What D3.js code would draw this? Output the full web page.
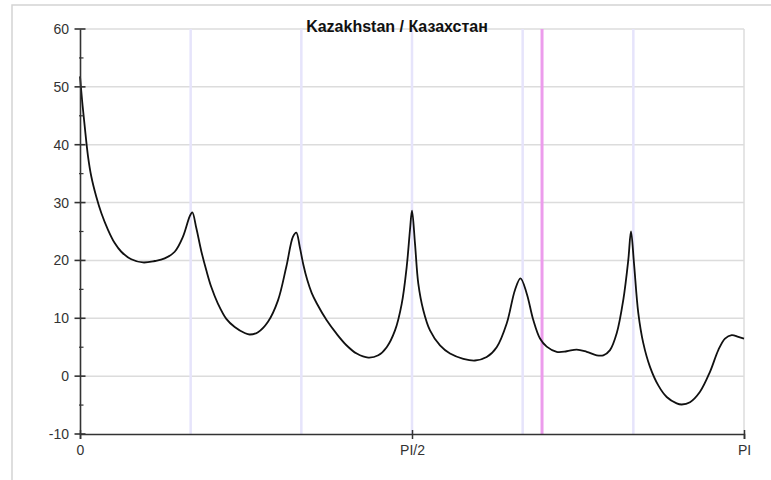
<!DOCTYPE html>
<html>
<head>
<meta charset="utf-8">
<script src="https://cdn.jsdelivr.net/npm/d3@7"></script>
<style>
html,body{margin:0;padding:0;background:#fff;}
svg{display:block;}
text{font-family:"Liberation Sans",Arial,sans-serif;}
</style>
</head>
<body>
<svg id="chart" width="771" height="480"></svg>
<script>
const title = "Kazakhstan / Казахстан";
const omega = [0.000,0.0100,0.0222,0.0379,0.0535,0.0771,0.1008,0.1325,0.1642,0.1954,0.2427,0.2981,0.3534,0.4007,0.4481,0.4873,0.5190,0.5313,0.5503,0.5739,0.5976,0.6212,0.6529,0.6922,0.7319,0.7792,0.8029,0.8422,0.8895,0.9368,0.9761,1.0078,1.0234,1.0400,1.0565,1.0754,1.0960,1.1199,1.1672,1.2145,1.2618,1.3092,1.3640,1.4114,1.4511,1.4904,1.5221,1.5457,1.5613,1.5708,1.5850,1.6006,1.6243,1.6560,1.7033,1.7506,1.8135,1.8689,1.9242,1.9715,2.0188,2.0581,2.0841,2.1134,2.1447,2.1764,2.2081,2.2554,2.3027,2.3500,2.3973,2.4447,2.4759,2.5076,2.5393,2.5705,2.5942,2.6069,2.6211,2.6415,2.6651,2.6968,2.7361,2.7758,2.8231,2.8468,2.8861,2.9334,2.9807,3.0200,3.0517,3.0834,3.1146,3.1416];
const values = [51.8,47.6,43.2,38.0,34.5,31.0,28.2,25.3,23.0,21.5,20.2,19.65,19.9,20.35,21.5,24.1,27.6,28.3,25.6,21.6,18.3,15.4,12.5,9.9,8.5,7.46,7.2,7.6,9.4,13.1,18.9,24.1,24.8,22.3,19.3,16.6,14.4,12.6,9.65,7.3,5.3,3.9,3.2,3.6,5.0,7.9,12.5,18.9,25.3,28.6,22.9,16.0,11.4,7.9,5.3,3.9,3.0,2.7,3.3,5.0,9.1,14.9,16.9,14.3,9.7,6.5,5.1,4.2,4.3,4.6,4.2,3.6,3.6,4.5,7.4,13.2,20.1,25.0,19.5,10.9,5.7,1.6,-1.6,-3.6,-4.7,-4.9,-4.5,-2.7,0.75,4.5,6.5,7.1,6.8,6.5];
const yTicks = [-10,0,10,20,30,40,50,60];
const yMinorTicks = [-5,5,15,25,35,45,55];
const xTicks = [0, Math.PI/2, Math.PI];
const xTickLabels = ["0","PI/2","PI"];
const sixthLines = [Math.PI/6, 2*Math.PI/6, 3*Math.PI/6, 4*Math.PI/6, 5*Math.PI/6];
const markerLine = [2.186];

const svg = d3.select("#chart");
const x = d3.scaleLinear().domain([0, Math.PI]).range([80, 744]);
const y = d3.scaleLinear().domain([-10, 60]).range([434, 29]);

// outer frame
svg.append("rect").attr("x",12).attr("y",5).attr("width",800).attr("height",500)
  .attr("fill","none").attr("stroke","#d4d4d4").attr("stroke-width",1.5);

// horizontal grid
svg.append("g").selectAll("line").data(yTicks.filter(d=>d>-10)).join("line")
  .attr("x1",x(0)).attr("x2",x(Math.PI)).attr("y1",d=>y(d)).attr("y2",d=>y(d))
  .attr("stroke","#dcdcdc").attr("stroke-width",1.5);
// right edge
svg.append("line").attr("x1",x(Math.PI)).attr("x2",x(Math.PI)).attr("y1",y(60)).attr("y2",y(-10))
  .attr("stroke","#dcdcdc").attr("stroke-width",1.5);

// vertical pi/6 lines
svg.append("g").selectAll("line").data(sixthLines).join("line")
  .attr("x1",d=>x(d)).attr("x2",d=>x(d)).attr("y1",y(60)).attr("y2",y(-10))
  .attr("stroke","#e6e4fb").attr("stroke-width",2.5);
svg.append("g").selectAll("line").data(markerLine).join("line")
  .attr("x1",d=>x(d)).attr("x2",d=>x(d)).attr("y1",y(60)).attr("y2",y(-10))
  .attr("stroke","#ec9cec").attr("stroke-width",3);

// curve
const pts = omega.map((w,i)=>[w, values[i]]);
svg.append("path").datum(pts)
  .attr("d", d3.line().x(d=>x(d[0])).y(d=>y(d[1])).curve(d3.curveCatmullRom.alpha(0.5)))
  .attr("fill","none").attr("stroke","#111").attr("stroke-width",1.8);

// y axis
const yAxis = d3.axisLeft(y).tickValues(yTicks).tickSize(0).tickPadding(11).tickFormat(d=>String(d));
const gy = svg.append("g").attr("transform",`translate(${x(0)},0)`).call(yAxis);
gy.select(".domain").attr("stroke","#333").attr("stroke-width",1.6);
gy.selectAll("text").attr("font-size",14).attr("fill","#333");
svg.append("g").selectAll("line").data(yTicks).join("line")
  .attr("x1",x(0)-5.5).attr("x2",x(0)+5.5).attr("y1",d=>y(d)).attr("y2",d=>y(d))
  .attr("stroke","#333").attr("stroke-width",1.6);
svg.append("g").selectAll("line").data(yMinorTicks).join("line")
  .attr("x1",x(0)-1).attr("x2",x(0)+3.5).attr("y1",d=>y(d)).attr("y2",d=>y(d))
  .attr("stroke","#333").attr("stroke-width",1.2);

// x axis
const xAxis = d3.axisBottom(x).tickValues(xTicks).tickSize(5).tickPadding(6)
  .tickFormat((d,i)=>xTickLabels[i]);
const gx = svg.append("g").attr("transform",`translate(0,${y(-10)})`).call(xAxis);
gx.select(".domain").attr("stroke","#333").attr("stroke-width",1.6);
gx.selectAll(".tick line").attr("stroke","#333").attr("stroke-width",1.5).attr("y1",-4);
gx.selectAll("text").attr("font-size",14).attr("fill","#333");

// title
svg.append("text").attr("x",397).attr("y",32).attr("text-anchor","middle")
  .attr("font-size",16).attr("font-weight","bold").attr("fill","#111").text(title);
</script>
</body>
</html>
